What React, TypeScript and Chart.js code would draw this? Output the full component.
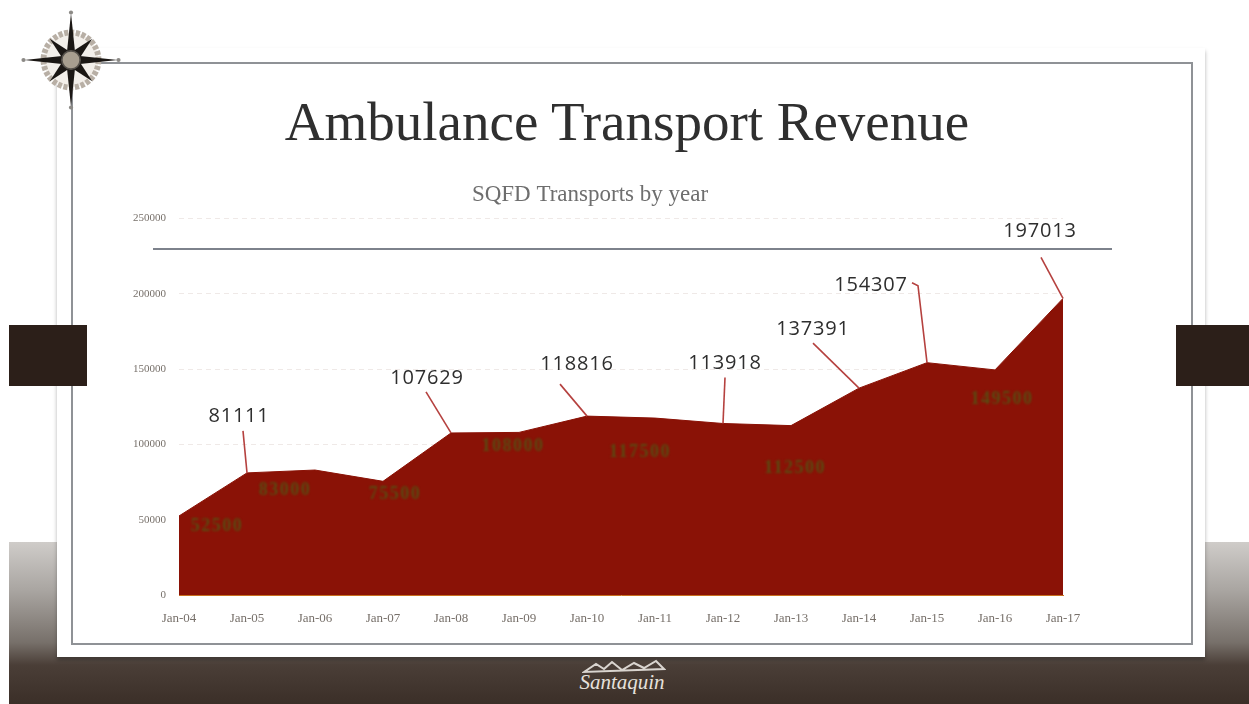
import React, { useEffect, useRef } from "react";
import { Chart, registerables } from "chart.js";

Chart.register(...registerables);

const slideTitle = "Ambulance Transport Revenue";
const chartTitle = "SQFD Transports by year";
const logoText = "Santaquin";
const categories = ["Jan-04", "Jan-05", "Jan-06", "Jan-07", "Jan-08", "Jan-09", "Jan-10", "Jan-11", "Jan-12", "Jan-13", "Jan-14", "Jan-15", "Jan-16", "Jan-17"];
const transports = [52500, 81111, 83000, 75500, 107629, 108000, 118816, 117500, 113918, 112500, 137391, 154307, 149500, 197013];

// [category index, label centre dx, label centre dy, line start dx, line start dy] relative to the point
const callouts = [
  [1, -8, -57, -4, -42],
  [4, -24, -55, -25, -41],
  [6, -10, -52, -27, -32],
  [8, 2, -60, 2, -46],
  [10, -46, -59, -46, -45],
  [11, -56, -77, -15, -80],
  [13, -23, -67, -22, -41],
];
// [category index, dx, dy]: the small low-contrast labels inside the area
const innerLabels = [
  [0, 38, 10],
  [2, -30, 20],
  [3, 12, 13],
  [5, -6, 14],
  [7, -15, 34],
  [9, 4, 43],
  [12, 7, 29],
];

const labelPlugin = {
  id: "slideLabels",
  afterDatasetsDraw(chart: any) {
    const { ctx, scales } = chart;
    const at = (i: number) => ({ x: scales.x.getPixelForValue(i), y: scales.y.getPixelForValue(transports[i]) });
    ctx.save();
    ctx.textAlign = "center";
    ctx.textBaseline = "middle";
    ctx.filter = "blur(1.3px)";
    ctx.font = "bold 18px 'Liberation Serif', serif";
    ctx.letterSpacing = "1.5px";
    ctx.fillStyle = "#5a4a12";
    innerLabels.forEach(([i, dx, dy]) => {
      const p = at(i);
      ctx.fillText(String(transports[i]), p.x + dx, p.y + dy);
    });
    ctx.filter = "none";
    ctx.letterSpacing = "0.8px";
    ctx.font = "20px 'Open Sans', 'DejaVu Sans', sans-serif";
    callouts.forEach(([i, lx, ly, sx, sy]) => {
      const p = at(i);
      ctx.strokeStyle = "#b5413f";
      ctx.lineWidth = 1.6;
      ctx.beginPath();
      ctx.moveTo(p.x + sx, p.y + sy);
      if (i === 11) ctx.lineTo(p.x - 9, p.y - 77);
      ctx.lineTo(p.x, p.y);
      ctx.stroke();
      ctx.fillStyle = "#2e2e2e";
      ctx.fillText(String(transports[i]), p.x + lx, p.y + ly);
    });
    ctx.restore();
  },
};

const abs = (left: number, top: number, width: number, height: number, extra: React.CSSProperties = {}): React.CSSProperties => ({ position: "absolute", left, top, width, height, ...extra });

function Compass() {
  const long = (a: number) => <polygon key={a} points="0,-56 5,-8 0,0 -5,-8" fill="#1b1714" transform={`rotate(${a})`} />;
  const short = (a: number) => <polygon key={a} points="0,-36 6,-8 0,0 -6,-8" fill="#1b1714" transform={`rotate(${a})`} />;
  return (
    <svg style={abs(21, 10, 100, 100, { zIndex: 4 })} viewBox="-60 -60 120 120">
      <circle r="33" fill="#f3efea" stroke="#b8afa5" strokeWidth="7" strokeDasharray="5 2" />
      {[45, 135, 225, 315].map(short)}
      {[0, 90, 180, 270].map(long)}
      <circle r="11" fill="#a89e8f" stroke="#55504a" strokeWidth="2" />
      {[0, 90, 180, 270].map((a) => <circle key={a} cx="0" cy="-57" r="2.5" fill="#8c8a86" transform={`rotate(${a})`} />)}
    </svg>
  );
}

export default function App() {
  const ref = useRef<HTMLCanvasElement>(null);
  useEffect(() => {
    document.body.style.margin = "0";
    const chart = new Chart(ref.current!, {
      type: "line",
      data: {
        labels: categories,
        datasets: [{
          data: transports,
          fill: "origin",
          backgroundColor: "#8a1206",
          borderColor: "#8a1206",
          borderWidth: 1,
          pointRadius: 0,
          tension: 0,
        }],
      },
      plugins: [labelPlugin],
      options: {
        animation: false,
        responsive: false,
        layout: { padding: { right: 57, left: 0, top: 0, bottom: 0 } },
        plugins: {
          legend: { display: false },
          tooltip: { enabled: false },
          title: {
            display: true,
            text: chartTitle,
            color: "#6e6e6e",
            font: { family: "'Liberation Serif', serif", size: 23, weight: "normal" },
            padding: { top: 11, bottom: 10 },
          },
        },
        scales: {
          x: {
            type: "category",
            offset: false,
            grid: { display: false },
            border: { display: true, color: "#c9701f", width: 1 },
            afterFit: (s: any) => { s.height = 45; },
            ticks: { color: "#77706a", padding: 8, maxRotation: 0, autoSkip: false, font: { family: "'Liberation Serif', serif", size: 13 } },
          },
          y: {
            min: 0,
            max: 250000,
            afterFit: (s: any) => { s.width = 62; },
            grid: { color: "#efe9e7", drawTicks: false, lineWidth: 1 },
            border: { display: false, dash: [5, 4] },
            ticks: { stepSize: 50000, color: "#77706a", padding: 13, callback: (v: any) => String(v), font: { family: "'Liberation Serif', serif", size: 11 } },
          },
        },
      },
    } as any);
    return () => chart.destroy();
  }, []);

  return (
    <div style={abs(0, 0, 1249, 704, { overflow: "hidden", background: "#fff", filter: "blur(0.4px)" })}>
      <div style={abs(9, 542, 1240, 162, { background: "linear-gradient(#cfccc9 0%, #a9a5a1 30%, #77706a 62%, #4a3e37 76%, #3b2f28 100%)" })} />
      <div style={abs(57, 48, 1148, 609, { background: "#fff", boxShadow: "0 3px 4px rgba(0,0,0,.3)" })} />
      <div style={abs(71, 62, 1122, 583, { border: "2px solid #8f9296", boxSizing: "border-box" })} />
      <div style={abs(9, 325, 78, 61, { background: "#2c1f19" })} />
      <div style={abs(1176, 325, 73, 61, { background: "#2c1f19" })} />
      <Compass />
      <div style={abs(0, 89, 1254, 66, { textAlign: "center", font: "55px 'Liberation Serif', serif", lineHeight: "66px", color: "#2f2f2f" })}>{slideTitle}</div>
      <canvas ref={ref} width={1003} height={470} style={abs(117, 170, 1003, 470)} />
      <div style={abs(153, 248, 959, 2, { background: "#7d828c" })} />
      <svg style={abs(582, 658, 84, 22)} viewBox="0 0 84 22">
        <polygon points="2,14 14,6 22,11 30,4 40,12 52,5 62,10 74,3 82,11" fill="none" stroke="#d9d4cf" strokeWidth="2" />
      </svg>
      <div style={abs(562, 670, 120, 34, { textAlign: "center", font: "italic 21px 'Liberation Serif', serif", color: "#e6e1dc" })}>{logoText}</div>
    </div>
  );
}
